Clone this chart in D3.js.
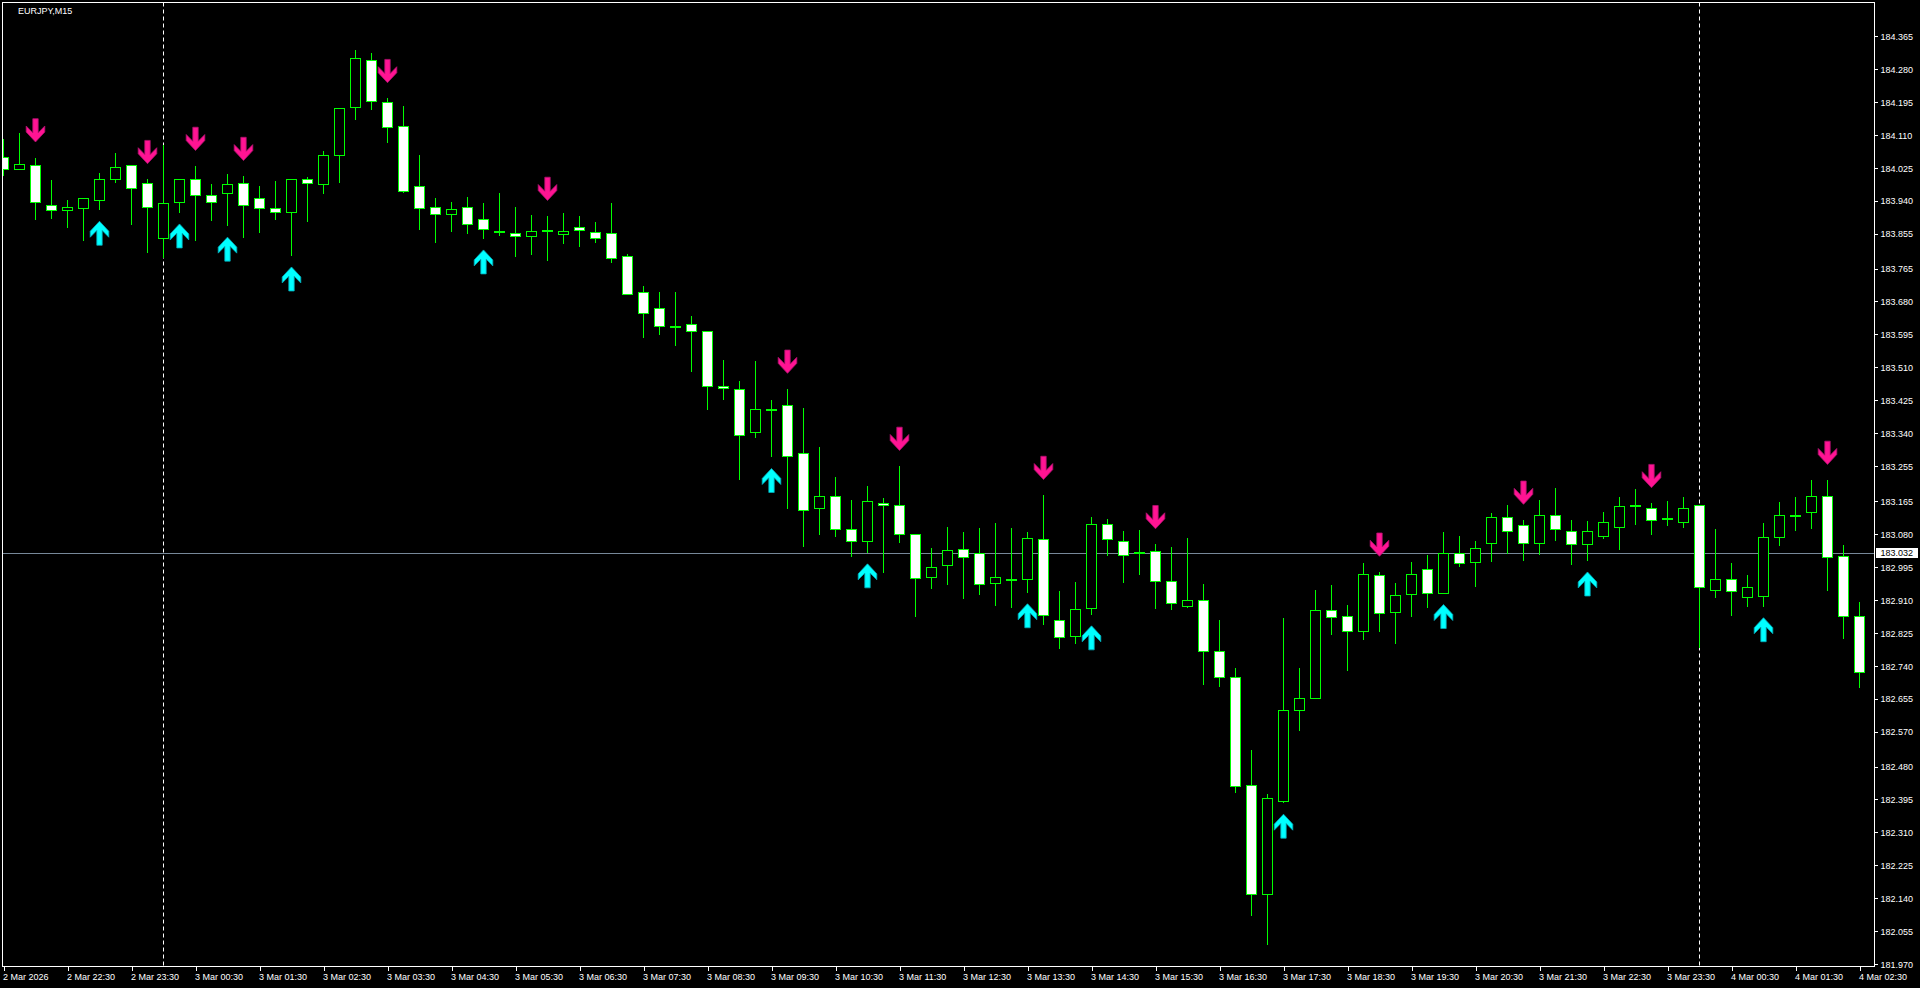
<!DOCTYPE html>
<html><head><meta charset="utf-8">
<script src="https://cdn.jsdelivr.net/npm/d3@7"></script>
<style>html,body{margin:0;padding:0;background:#000;overflow:hidden}</style>
</head><body><svg id="c" width="1920" height="988"></svg>
<script>
const symbolTitle = "EURJPY,M15";
const opens = [184.053,184.021,184.033,183.930,183.915,183.920,183.941,183.997,184.031,183.985,
 183.843,183.937,183.997,183.956,183.961,183.985,183.948,183.920,183.912,183.995,
 183.982,184.059,184.183,184.302,184.194,184.132,183.977,183.925,183.906,183.923,
 183.894,183.861,183.857,183.850,183.864,183.855,183.872,183.858,183.856,183.797,
 183.704,183.662,183.617,183.623,183.603,183.461,183.453,183.344,183.402,183.412,
 183.288,183.146,183.179,183.094,183.061,183.161,183.154,183.079,182.970,182.999,
 183.042,183.030,182.953,182.963,182.963,183.067,182.859,182.818,182.888,183.105,
 183.062,183.034,183.035,182.960,182.895,182.911,182.777,182.712,182.433,182.151,
 182.391,182.626,182.657,182.883,182.869,182.831,182.973,182.878,182.924,182.991,
 182.929,183.031,183.007,183.056,183.123,183.102,183.058,183.130,183.089,183.053,
 183.074,183.099,183.156,183.148,183.122,183.112,183.156,182.935,182.963,182.917,
 182.919,183.071,183.128,183.138,183.179,183.022,182.869];
const highs = [184.100,184.114,184.051,183.993,183.942,183.948,184.011,184.063,184.031,183.995,
 184.085,183.997,184.029,183.982,184.008,184.003,183.978,183.990,183.995,184.000,
 184.068,184.179,184.329,184.320,184.204,184.185,184.057,183.947,183.936,183.949,
 183.934,183.960,183.924,183.903,183.900,183.908,183.900,183.885,183.934,183.803,
 183.720,183.705,183.705,183.642,183.603,183.529,183.475,183.526,183.426,183.454,
 183.405,183.305,183.226,183.167,183.203,183.174,183.255,183.079,183.043,183.098,
 183.085,183.095,183.108,183.095,183.085,183.180,182.933,182.956,183.123,183.118,
 183.089,183.090,183.053,183.046,183.069,182.951,182.858,182.734,182.522,182.410,
 182.863,182.734,182.935,182.948,182.897,183.005,182.982,182.953,183.008,183.026,
 183.085,183.074,183.062,183.134,183.154,183.116,183.167,183.198,183.116,183.113,
 183.136,183.175,183.195,183.159,183.165,183.175,183.156,183.094,183.005,182.974,
 183.108,183.162,183.175,183.219,183.219,183.051,182.905];
const lows = [184.006,184.021,183.894,183.896,183.873,183.839,183.918,183.989,183.880,183.808,
 183.796,183.911,183.839,183.890,183.877,183.847,183.860,183.893,183.800,183.888,
 183.960,183.989,184.151,184.177,184.092,183.963,183.867,183.833,183.862,183.857,
 183.844,183.851,183.797,183.803,183.787,183.831,183.823,183.833,183.782,183.700,
 183.589,183.596,183.568,183.501,183.403,183.429,183.222,183.331,183.280,183.147,
 183.049,183.080,183.075,183.024,183.034,182.983,183.060,182.869,182.941,182.951,
 182.916,182.926,182.898,182.892,182.931,182.848,182.786,182.799,182.874,183.026,
 182.957,182.977,182.890,182.887,182.892,182.693,182.688,182.414,182.097,182.022,
 182.388,182.574,182.657,182.821,182.729,182.809,182.830,182.799,182.869,182.892,
 182.929,182.998,182.946,183.011,183.032,183.013,183.029,183.065,183.003,183.013,
 183.069,183.042,183.106,183.080,183.104,183.098,182.788,182.918,182.872,182.895,
 182.895,183.052,183.091,183.096,182.936,182.812,182.684];
const closes = [184.021,184.036,183.936,183.916,183.923,183.946,183.997,184.026,183.974,183.925,
 183.933,183.997,183.956,183.936,183.982,183.928,183.920,183.910,183.995,183.985,
 184.059,184.179,184.307,184.196,184.131,183.966,183.922,183.905,183.918,183.879,
 183.866,183.860,183.850,183.862,183.864,183.862,183.865,183.844,183.793,183.700,
 183.651,183.618,183.617,183.603,183.461,183.456,183.335,183.402,183.402,183.281,
 183.143,183.177,183.094,183.061,183.164,183.156,183.079,182.967,182.995,183.040,
 183.020,182.950,182.970,182.963,183.069,182.870,182.815,182.886,183.105,183.066,
 183.027,183.034,182.960,182.901,182.911,182.778,182.711,182.430,182.151,182.400,
 182.627,182.658,182.883,182.867,182.830,182.976,182.875,182.922,182.976,182.929,
 183.032,183.004,183.045,183.123,183.087,183.056,183.130,183.092,183.053,183.087,
 183.110,183.153,183.151,183.117,183.122,183.146,182.942,182.963,182.932,182.942,
 183.071,183.130,183.128,183.177,183.020,182.868,182.725];
const sellSignals = [2,9,12,15,24,34,49,56,65,72,86,95,103,114];
const buySignals = [6,11,14,18,30,48,54,64,68,80,90,99,110];
const daySeparators = [10,106];
const timeLabels = ["2 Mar 2026","2 Mar 22:30","2 Mar 23:30","3 Mar 00:30","3 Mar 01:30","3 Mar 02:30",
 "3 Mar 03:30","3 Mar 04:30","3 Mar 05:30","3 Mar 06:30","3 Mar 07:30","3 Mar 08:30","3 Mar 09:30",
 "3 Mar 10:30","3 Mar 11:30","3 Mar 12:30","3 Mar 13:30","3 Mar 14:30","3 Mar 15:30","3 Mar 16:30",
 "3 Mar 17:30","3 Mar 18:30","3 Mar 19:30","3 Mar 20:30","3 Mar 21:30","3 Mar 22:30","3 Mar 23:30",
 "4 Mar 00:30","4 Mar 01:30","4 Mar 02:30"];
const priceTicks = ["184.365","184.280","184.195","184.110","184.025","183.940","183.855","183.765",
 "183.680","183.595","183.510","183.425","183.340","183.255","183.165","183.080","182.995","182.910",
 "182.825","182.740","182.655","182.570","182.480","182.395","182.310","182.225","182.140","182.055","181.970"];
const levelPrice = 183.032;

const FONT = "'Liberation Sans', Arial, sans-serif";
const svg = d3.select("#c");
svg.append("rect").attr("width",1920).attr("height",988).attr("fill","#000");

const nBars = opens.length;
const x = d3.scaleLinear().domain([0, nBars-1]).range([3.5, 3.5 + 16*(nBars-1)]);
const y = d3.scaleLinear().domain([181.970, 184.365]).range([964.2, 36]);

const plotL = 2.5, plotT = 2.5, plotR = 1874.5, plotB = 966.5;

svg.append("clipPath").attr("id","pc").append("rect")
  .attr("x",plotL+0.5).attr("y",plotT+0.5).attr("width",plotR-plotL-1).attr("height",plotB-plotT-1);
const plot = svg.append("g").attr("clip-path","url(#pc)");

// day separators
plot.selectAll("line.sep").data(daySeparators).join("line").attr("class","sep")
  .attr("x1",d=>x(d)).attr("x2",d=>x(d)).attr("y1",plotT).attr("y2",plotB)
  .attr("stroke","#fff").attr("stroke-width",1).attr("stroke-dasharray","4,3");

// horizontal level line
const ly = Math.round(y(levelPrice)) + 0.5;
plot.append("line").attr("x1",plotL).attr("x2",plotR).attr("y1",ly).attr("y2",ly)
  .attr("stroke","#778899").attr("stroke-width",1);

const bars = d3.range(nBars).map(i=>({i,o:opens[i],h:highs[i],l:lows[i],c:closes[i]}));
const cg = plot.append("g").attr("shape-rendering","crispEdges");
cg.selectAll("line.wick").data(bars).join("line").attr("class","wick")
  .attr("x1",d=>x(d.i)).attr("x2",d=>x(d.i))
  .attr("y1",d=>Math.round(y(d.h))).attr("y2",d=>Math.round(y(d.l))+1)
  .attr("stroke","#00ff00").attr("stroke-width",1);
cg.selectAll("rect.body").data(bars).join("rect").attr("class","body")
  .attr("x",d=>x(d.i)-5).attr("width",10)
  .attr("y",d=>Math.round(y(Math.max(d.o,d.c)))+0.5)
  .attr("height",d=>Math.max(1, Math.round(y(Math.min(d.o,d.c))) - Math.round(y(Math.max(d.o,d.c)))))
  .attr("fill",d=>d.c>=d.o ? "#000" : "#fff")
  .attr("stroke","#00ff00").attr("stroke-width",1);

// signal arrows
const downPath = "M-2.7,0L2.7,0L2.7,14L9.3,7.3L9.3,13.3L0,23.3L-9.3,13.3L-9.3,7.3L-2.7,14Z";
const upPath = "M0,0L9.3,10L9.3,16L2.7,9.3L2.7,24L-2.7,24L-2.7,9.3L-9.3,16L-9.3,10Z";
plot.selectAll("path.dn").data(sellSignals).join("path").attr("class","dn")
  .attr("d",downPath)
  .attr("transform",i=>`translate(${x(i)},${y(highs[i]) - 39})`)
  .attr("fill","#ff1493").attr("stroke","#b0106e").attr("stroke-width",0.8);
plot.selectAll("path.up").data(buySignals).join("path").attr("class","up")
  .attr("d",upPath)
  .attr("transform",i=>`translate(${x(i)},${y(lows[i]) + 12})`)
  .attr("fill","#00ffff").attr("stroke","#00a8b8").attr("stroke-width",0.8);

// frame
svg.append("rect").attr("x",plotL).attr("y",plotT).attr("width",plotR-plotL).attr("height",plotB-plotT)
  .attr("fill","none").attr("stroke","#fff").attr("stroke-width",1).attr("shape-rendering","crispEdges");

// right price axis
const yAxis = d3.axisRight(y).tickValues(priceTicks.map(Number))
  .tickFormat((d,i)=>priceTicks[i]).tickSize(3).tickPadding(3);
const ya = svg.append("g").attr("transform",`translate(${plotR},0)`).call(yAxis);
ya.select(".domain").remove();
ya.selectAll("line").attr("stroke","#fff").attr("shape-rendering","crispEdges");
ya.selectAll("text").attr("fill","#fff").attr("font-family",FONT).attr("font-size","9px").attr("dy","0.36em");

// bottom time axis
const labelIdx = timeLabels.map((t,k)=>k*4);
const xAxis = d3.axisBottom(x).tickValues(labelIdx).tickFormat((d,k)=>timeLabels[k]).tickSize(4).tickPadding(3);
const xa = svg.append("g").attr("transform",`translate(0,${plotB})`).call(xAxis);
xa.select(".domain").remove();
xa.selectAll("line").attr("stroke","#fff").attr("shape-rendering","crispEdges");
xa.selectAll("text").attr("fill","#fff").attr("font-family",FONT).attr("font-size","9px")
  .attr("text-anchor","start").attr("x",-1);

// title
svg.append("text").attr("x",18).attr("y",14).text(symbolTitle)
  .attr("fill","#fff").attr("font-family",FONT).attr("font-size","9px");

// level price box
const by = y(levelPrice);
svg.append("rect").attr("x",1876).attr("y",Math.round(by)-5).attr("width",42).attr("height",10).attr("fill","#fff");
svg.append("text").attr("x",1880.5).attr("y",by).attr("dy","0.36em").text(levelPrice.toFixed(3))
  .attr("fill","#000").attr("font-family",FONT).attr("font-size","9px");
</script></body></html>
